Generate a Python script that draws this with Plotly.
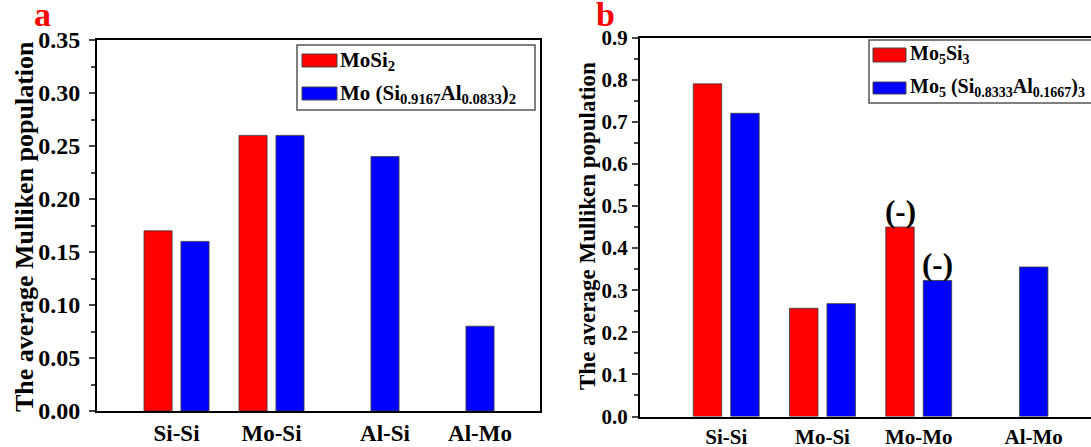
import plotly.graph_objects as go
from plotly.subplots import make_subplots

# ---- data ----
bonds_a = ["Si-Si", "Mo-Si", "Al-Si", "Al-Mo"]
mosi2 = [0.17, 0.26, None, None]
mosi2_al = [0.16, 0.26, 0.24, 0.08]

bonds_b = ["Si-Si", "Mo-Si", "Mo-Mo", "Al-Mo"]
mo5si3 = [0.79, 0.257, 0.45, None]
mo5si3_al = [0.72, 0.268, 0.323, 0.355]
neg_marks_b = ["(-)", "(-)"]  # antibonding Mo-Mo populations

names_a = ["MoSi<sub>2</sub>", "Mo (Si<sub>0.9167</sub>Al<sub>0.0833</sub>)<sub>2</sub>"]
names_b = ["Mo<sub>5</sub>Si<sub>3</sub>", "Mo<sub>5</sub> (Si<sub>0.8333</sub>Al<sub>0.1667</sub>)<sub>3</sub>"]

RED = "#FF0000"
BLUE = "#0000FF"
FONT = "Liberation Serif"
W, H = 1091, 447
BARGAP = 0.222
BARGROUPGAP = 0.24
SLOT = (1 - BARGAP) / 2  # width of one bar slot inside a group


def px(x):
    return x / W


def py(y):
    return 1 - y / H


fig = make_subplots(rows=1, cols=2)

for col, (cats, r, b) in enumerate([(bonds_a, mosi2, mosi2_al), (bonds_b, mo5si3, mo5si3_al)], start=1):
    xs = list(range(len(cats)))
    for vals, color in [(r, RED), (b, BLUE)]:
        fig.add_trace(go.Bar(x=xs, y=vals, marker=dict(color=color, line=dict(color="#3a3a3a", width=0.8)),
                             showlegend=False, hoverinfo="skip"), row=1, col=col)

# category labels: centred on the group, or on the lone blue bar
def tick_pos(red_vals):
    return [i if v is not None else i + SLOT / 2 for i, v in enumerate(red_vals)]


axis_common = dict(showgrid=False, zeroline=False, showline=True, linecolor="black", linewidth=2,
                   automargin=False)

fig.update_layout(
    width=W, height=H, autosize=False,
    margin=dict(l=0, r=0, t=0, b=0, pad=0),
    paper_bgcolor="white", plot_bgcolor="white",
    barmode="group", bargap=BARGAP, bargroupgap=BARGROUPGAP,
    font=dict(family=FONT, color="black"),
    xaxis=dict(domain=[px(97), px(540)], range=[-0.837, 3.826], mirror=True,
               tickvals=tick_pos(mosi2), ticktext=bonds_a, ticks="",
               tickfont=dict(size=23, weight="bold"), **axis_common),
    yaxis=dict(domain=[py(411), py(40)], range=[0, 0.35], dtick=0.05, tickformat=".2f", mirror=True,
               ticks="outside", ticklen=6, tickwidth=2, ticklabelstandoff=4,
               minor=dict(ticks="outside", ticklen=4, tickwidth=1.5, dtick=0.025),
               tickfont=dict(size=24, weight="bold"), **axis_common),
    xaxis2=dict(domain=[px(640), 1.0], range=[-0.896, 3.79], mirror=True,
                tickvals=tick_pos(mo5si3), ticktext=bonds_b, ticks="",
                tickfont=dict(size=21, weight="bold"), **axis_common),
    yaxis2=dict(domain=[py(416.5), py(37.5)], range=[0, 0.9], dtick=0.1, tickformat=".1f",
                ticks="outside", ticklen=6, tickwidth=2, ticklabelstandoff=0,
                minor=dict(ticks="outside", ticklen=4, tickwidth=1.5, dtick=0.05),
                tickfont=dict(size=21, weight="bold"), **axis_common),
)

ann = []
shapes = []


def text(s, x, y, size, color="black", angle=0):
    ann.append(dict(text=s, x=px(x), y=py(y), xref="paper", yref="paper", showarrow=False,
                    xanchor="center", yanchor="middle", textangle=angle,
                    font=dict(size=size, color=color, family=FONT)))


# panel letters
text("<b>a</b>", 42, 15, 34, RED)
text("<b>b</b>", 605, 14, 34, RED)

# y-axis titles
text("<b>The average Mulliken population</b>", 24, 227, 26, angle=-90)
text("<b>The average Mulliken population</b>", 587, 226, 23, angle=-90)

# "(-)" marks above the Mo-Mo bars in panel b
mm = bonds_b.index("Mo-Mo")
for (val, off), mark in zip([(mo5si3[mm], -SLOT / 2), (mo5si3_al[mm], SLOT / 2)], neg_marks_b):
    ann.append(dict(text="<b>%s</b>" % mark, x=mm + off, y=val, xref="x2", yref="y2", showarrow=False,
                    xanchor="center", yanchor="bottom", yshift=-4, font=dict(size=31, family=FONT)))


# legends drawn as boxed swatches with formula text
def legend(box, sw_x, rows_y, text_x, names, size):
    x0, y0, x1, y1 = box
    shapes.append(dict(type="rect", xref="paper", yref="paper", x0=px(x0), x1=px(x1), y0=py(y1), y1=py(y0),
                       line=dict(color="#555555", width=1.5), fillcolor="white", layer="above"))
    for (ya, yb), name, color in zip(rows_y, names, [RED, BLUE]):
        shapes.append(dict(type="rect", xref="paper", yref="paper", x0=px(sw_x[0]), x1=px(sw_x[1]),
                           y0=py(yb), y1=py(ya), line=dict(color="#444444", width=1), fillcolor=color,
                           layer="above"))
        ann.append(dict(text="<b>%s</b>" % name, x=px(text_x), y=py((ya + yb) / 2), xref="paper", yref="paper",
                        xanchor="left", yanchor="middle", showarrow=False, font=dict(size=size, family=FONT)))


legend((297, 45, 535, 110), (302, 337), [(54, 67), (87, 100)], 338, names_a, 21)
legend((869, 40, 1095, 103), (873, 906), [(48, 62), (82, 94)], 908, names_b, 20)

fig.update_layout(annotations=ann, shapes=shapes)
fig.write_html("out.html")
